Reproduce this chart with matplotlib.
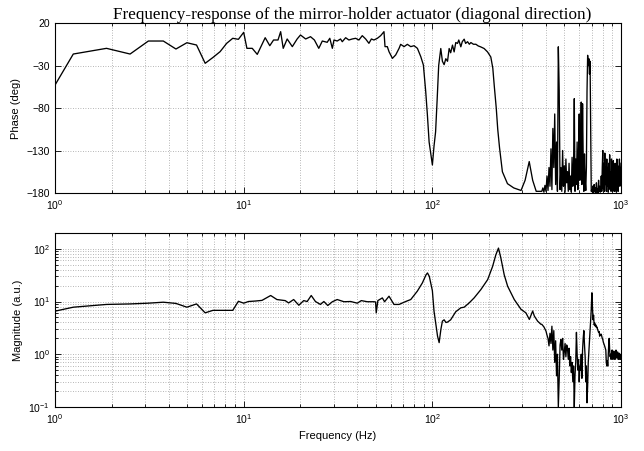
import numpy as np
import matplotlib
matplotlib.use('Agg')
import matplotlib.pyplot as plt
from matplotlib.ticker import LogLocator, NullFormatter

# phase, low/mid band (Hz, deg)
ph_freq = [1.0, 1.25, 1.875, 2.5, 3.125, 3.75, 4.375, 5.0, 5.625, 6.25, 6.875, 7.5, 8.125, 8.75, 9.375,
           10.0, 10.4, 11.1, 11.8, 13.0, 13.75, 14.4, 15.2, 15.7, 16.2, 17.0, 18.1, 19.2, 20.0, 21.3,
           22.6, 23.7, 25.0, 26.1, 27.7, 28.6, 29.5, 30.1, 31.3, 32.6, 33.3, 34.7, 36.1, 37.6, 39.2,
           40.8, 42.5, 44.3, 46.1, 47.5, 49.0, 51.1, 53.2, 55.4, 56.1, 57.7, 58.9, 61.4, 63.9, 66.6,
           67.9, 70.8, 73.7, 76.8, 80.0, 83.3, 86.8, 89.6, 92.2, 94.1, 96.1, 100, 102, 104, 106,
           108, 110.8, 113, 115.4, 117.8, 120.3, 122.7, 125, 127.8, 130.4, 133, 135.9, 138, 141.5, 144,
           147.4, 150, 153.6, 157, 160, 165, 170, 175, 180, 188, 196, 204, 209, 213, 218,
           222, 227, 235, 250, 270, 295, 310, 326, 340, 355, 376]
ph_vals = [-53, -16.5, -9.8, -16.5, -1.2, -1.2, -10.6, -3.2, -5.9, -27.4, -20.5, -13.7, -3.9, 2, 0.8,
           9, -9.8, -9.8, -16.9, 2.7, -6.7, 0, 0, 9.8, -9.8, 1.2, -7.8, 1.2, 5.9, 1.2,
           3.9, 0, -9.8, -1.2, -2.7, 2, -9.8, 0, -1.2, 1.2, -2, 2.7, 0, 1.2, 2,
           0, 5.1, 1.2, -3.9, 1.2, 0, 2, 5.1, 9.8, -7.8, -7.8, -13.7, -21.6, -17.6, -9.8,
           -5.1, -7.8, -5.1, -7.8, -6.7, -9.8, -19.6, -29.4, -60.8, -88.2, -120, -147, -125, -108, -70,
           -30, -10, -25, -29, -22, -25, -10, -15, -6, -14, -3, -4, 0, -8, -2,
           1, -4, -2, -5, -3, -5, -5, -7, -8, -10, -14, -20, -33, -55, -80,
           -105, -127, -155, -169, -174, -177, -165, -143, -165, -178, -178]

# magnitude, low/mid band (Hz, a.u.)
mag_freq = [1.0, 1.25, 1.875, 2.5, 3.125, 3.75, 4.375, 5.0, 5.625, 6.25, 6.875, 7.5, 8.125, 8.75, 9.375,
            10.0, 10.6, 11.5, 12.5, 13.9, 15.0, 16.6, 17.3, 18.4, 19.6, 20.8, 21.7, 22.8, 24.0, 25.5,
            26.6, 27.9, 29.5, 31.3, 34.0, 36.9, 40.0, 42.0, 45.2, 49.0, 50.0, 50.4, 51.4, 54.3, 55.8,
            58.9, 62.6, 66.6, 72.2, 76.8, 83.2, 88.5, 92.5, 94.2, 96.3, 100, 102, 104.3, 106.5, 108.6,
            111, 113, 115.4, 118, 120.3, 125, 133, 141.5, 147.4, 156.6, 166.4, 180.6, 196.3, 208.4, 217,
            224, 230.6, 240.3, 250.5, 271.6, 295, 313, 326.5, 340, 347, 361, 376]
mag_vals = [6.56, 7.8, 8.8, 9.0, 9.3, 9.7, 9.2, 7.8, 9.0, 6.1, 6.8, 6.8, 6.8, 6.8, 10.1,
            9.3, 10, 10.2, 10.5, 13, 10.9, 10.4, 9.4, 10.9, 8.5, 10.4, 10, 13, 10, 8.8,
            10, 8.4, 9.9, 10.9, 9.9, 10, 9.3, 10.4, 9.9, 9.9, 9.8, 6.1, 10.4, 11.7, 9.9,
            12.6, 8.8, 8.8, 10, 10.9, 15.7, 22.5, 32, 34.8, 30, 16, 6.6, 3.7, 2.2, 1.66,
            3.0, 4.25, 4.5, 4.0, 4.07, 4.5, 6.4, 7.6, 7.8, 9.4, 11.7, 16.8, 26, 46, 77,
            103, 67, 32, 19.5, 10.9, 7.1, 6.1, 4.57, 6.6, 5.3, 4.25, 3.7]

# noisy high band, 5 Hz grid
hf_freq = np.arange(380, 1001, 5)
hf_phase = [-178, -174, -179, -171, -178, -160, -177, -150, -172, -128,
            -176, -104, -150, -87, -170, -120, -178, -8, -59, -176,
            -150, -178, -130, -172, -148, -179, -140, -168, -155, -178,
            -145, -176, -160, -179, -138, -172, -150, -69, -178, -140,
            -170, -120, -176, -135, -87, -165, -128, -73, -170, -75,
            -140, -178, -134, -165, -177, -150, -60, -18, -30, -22,
            -40, -25, -100, -178, -176, -179, -172, -180, -170, -178,
            -174, -180, -168, -178, -175, -180, -165, -178, -172, -179,
            -176, -160, -178, -150, -130, -175, -145, -178, -133, -170,
            -150, -178, -140, -172, -150, -179, -145, -170, -135, -176,
            -155, -178, -140, -168, -150, -178, -142, -172, -160, -178,
            -145, -175, -150, -179, -140, -170, -148, -178, -150, -168,
            -140, -172, -150, -160, -145]
hf_mag = [3.7, 3.5, 3.3, 3.0, 2.75, 2.3, 2.0, 1.44, 2.5, 1.6,
          3.4, 1.2, 2.8, 0.7, 1.8, 0.39, 1.0, 0.1, 0.34, 1.5,
          1.9, 1.2, 2.0, 0.8, 1.1, 1.6, 0.9, 1.5, 1.3, 0.8,
          1.3, 0.6, 0.9, 0.45, 0.7, 0.3, 0.6, 0.1, 0.4, 0.7,
          2.6, 1.0, 0.5, 0.8, 0.3, 0.6, 0.5, 1.0, 0.35, 1.2,
          2.0, 2.8, 1.5, 0.9, 0.3, 0.6, 0.12, 0.25, 0.7, 1.1,
          1.8, 2.5, 4.0, 7.0, 14.6, 8.0, 4.5, 5.5, 3.6, 3.9,
          3.4, 3.6, 3.2, 3.3, 3.0, 2.8, 2.6, 2.7, 2.2, 2.4,
          2.3, 2.4, 2.2, 2.0, 1.9, 1.7, 1.6, 1.5, 1.4, 1.3,
          1.2, 0.7, 0.6, 0.75, 0.6, 1.0, 1.5, 2.0, 1.2, 0.9,
          1.0, 0.8, 0.85, 1.2, 1.1, 0.8, 0.9, 1.15, 1.05, 0.8,
          0.8, 1.1, 1.2, 0.85, 0.9, 1.1, 1.1, 0.8, 0.85, 1.05,
          1.0, 0.85, 0.8, 1.0, 0.95]

phase_ticks = [-180, -130, -80, -30, 20]

freq_p = np.concatenate([ph_freq, hf_freq])
phase = np.concatenate([ph_vals, hf_phase])
freq_m = np.concatenate([mag_freq, hf_freq])
mag = np.concatenate([mag_vals, hf_mag])

plt.rcParams['font.family'] = ['Liberation Sans', 'DejaVu Sans']
plt.rcParams['font.size'] = 7.5

fig = plt.figure(figsize=(6.44, 4.51), dpi=100)
ax1 = fig.add_axes([0.0854, 0.572, 0.879, 0.377])
ax2 = fig.add_axes([0.0854, 0.0976, 0.879, 0.386])

gridkw = dict(color='0.62', linestyle=(0, (1, 2)), linewidth=0.6)

ax1.semilogx(freq_p, phase, color='k', linewidth=0.95)
ax1.set_xlim(1, 1000)
ax1.set_ylim(-180, 20)
ax1.set_yticks(phase_ticks)
ax1.grid(True, which='major', axis='both', **gridkw)
ax1.grid(True, which='minor', axis='x', **gridkw)
ax1.set_ylabel('Phase (deg)', fontsize=8)
ax1.set_title('Frequency-response of the mirror-holder actuator (diagonal direction)',
              family='Liberation Serif', fontsize=12.3, pad=2, x=0.525)

ax2.loglog(freq_m, mag, color='k', linewidth=0.95)
ax2.set_xlim(1, 1000)
ax2.set_ylim(0.1, 200)
ax2.yaxis.set_major_locator(LogLocator(base=10, numticks=10))
ax2.yaxis.set_minor_locator(LogLocator(base=10, subs=np.arange(2, 10), numticks=10))
ax2.yaxis.set_minor_formatter(NullFormatter())
ax2.grid(True, which='both', axis='both', **gridkw)
ax2.set_ylabel('Magnitude (a.u.)', fontsize=8)
ax2.set_xlabel('Frequency (Hz)', fontsize=8)

for ax in (ax1, ax2):
    ax.xaxis.set_minor_formatter(NullFormatter())
    ax.tick_params(which='both', direction='in', top=True, right=True, width=0.6)
    ax.tick_params(which='major', length=4)
    ax.tick_params(which='minor', length=2)
    ax.set_axisbelow(True)
    for s in ax.spines.values():
        s.set_linewidth(0.8)

fig.savefig('out.png', dpi=100)
